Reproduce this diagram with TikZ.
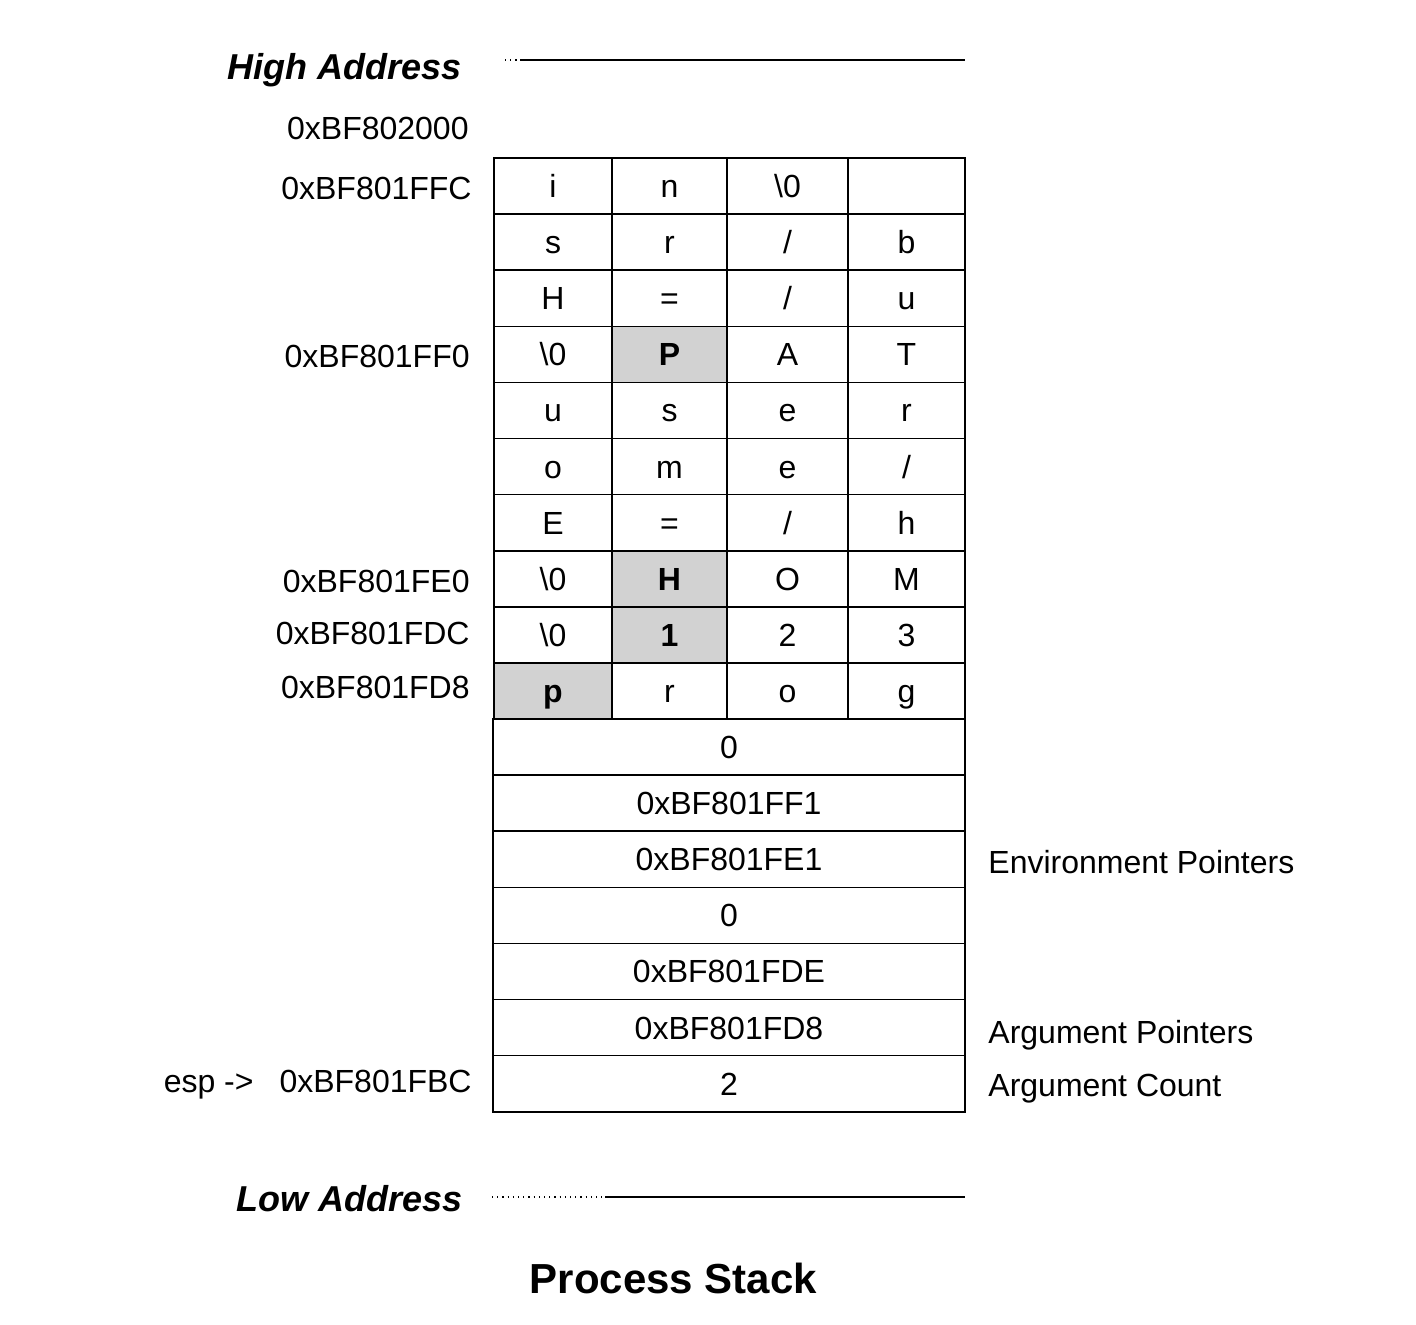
\documentclass[tikz,border=0pt]{standalone}
\usepackage{fontspec}
\setmainfont{Liberation Sans}
\newcommand\zchr{\textbackslash 0}
\begin{document}
\begin{tikzpicture}[x=0.5pt,y=-0.5pt,
  txt/.style={font=\fontsize{16}{19}\selectfont},
  cell/.style={draw, line width=0.8pt, minimum height=28.05pt, inner sep=0pt, text height=11.5pt, text depth=0pt, txt},
  ca/.style={cell, minimum width=59pt},
  cb/.style={cell, minimum width=57.5pt},
  cc/.style={cell, minimum width=60.5pt},
  cd/.style={cell, minimum width=58.5pt},
  wide/.style={cell, minimum width=236pt},
  shade/.style={fill=gray!35, font=\fontsize{16}{19}\selectfont\bfseries},
  addr/.style={anchor=base east, inner sep=0pt, txt},
  side/.style={anchor=base west, inner sep=0pt, txt},
  heading/.style={anchor=base east, inner sep=0pt, font=\fontsize{18}{22}\selectfont\bfseries\itshape},
  rule/.style={line width=0.8pt},
  dotrule/.style={line width=0.6pt, dotted},
]
\useasboundingbox (0,0) rectangle (1416,1324);
% row 0
\node[ca] (c0a) at (553,186.05) {i};
\node[cb] (c0b) at (669.5,186.05) {n};
\node[cc] (c0c) at (787.5,186.05) {\zchr};
\node[cd] (c0d) at (906.5,186.05) {};
% row 1
\node[ca] (c1a) at (553,242.15) {s};
\node[cb] (c1b) at (669.5,242.15) {r};
\node[cc] (c1c) at (787.5,242.15) {/};
\node[cd] (c1d) at (906.5,242.15) {b};
% row 2
\node[ca] (c2a) at (553,298.25) {H};
\node[cb] (c2b) at (669.5,298.25) {=};
\node[cc] (c2c) at (787.5,298.25) {/};
\node[cd] (c2d) at (906.5,298.25) {u};
% row 3
\node[ca] (c3a) at (553,354.35) {\zchr};
\node[cb,shade] (c3b) at (669.5,354.35) {P};
\node[cc] (c3c) at (787.5,354.35) {A};
\node[cd] (c3d) at (906.5,354.35) {T};
% row 4
\node[ca] (c4a) at (553,410.45) {u};
\node[cb] (c4b) at (669.5,410.45) {s};
\node[cc] (c4c) at (787.5,410.45) {e};
\node[cd] (c4d) at (906.5,410.45) {r};
% row 5
\node[ca] (c5a) at (553,466.55) {o};
\node[cb] (c5b) at (669.5,466.55) {m};
\node[cc] (c5c) at (787.5,466.55) {e};
\node[cd] (c5d) at (906.5,466.55) {/};
% row 6
\node[ca] (c6a) at (553,522.65) {E};
\node[cb] (c6b) at (669.5,522.65) {=};
\node[cc] (c6c) at (787.5,522.65) {/};
\node[cd] (c6d) at (906.5,522.65) {h};
% row 7
\node[ca] (c7a) at (553,578.75) {\zchr};
\node[cb,shade] (c7b) at (669.5,578.75) {H};
\node[cc] (c7c) at (787.5,578.75) {O};
\node[cd] (c7d) at (906.5,578.75) {M};
% row 8
\node[ca] (c8a) at (553,634.85) {\zchr};
\node[cb,shade] (c8b) at (669.5,634.85) {1};
\node[cc] (c8c) at (787.5,634.85) {2};
\node[cd] (c8d) at (906.5,634.85) {3};
% row 9
\node[ca,shade] (c9a) at (553,690.95) {p};
\node[cb] (c9b) at (669.5,690.95) {r};
\node[cc] (c9c) at (787.5,690.95) {o};
\node[cd] (c9d) at (906.5,690.95) {g};
% wide rows
\node[wide] (w10) at (729,747.05) {0};
\node[wide] (w11) at (729,803.15) {0xBF801FF1};
\node[wide] (w12) at (729,859.25) {0xBF801FE1};
\node[wide] (w13) at (729,915.35) {0};
\node[wide] (w14) at (729,971.45) {0xBF801FDE};
\node[wide] (w15) at (729,1027.55) {0xBF801FD8};
\node[wide] (w16) at (729,1083.65) {2};
% addresses
\node[addr] (a0) at (469,139) {0xBF802000};
\node[addr] (a1) at (472,199) {0xBF801FFC};
\node[addr] (a2) at (470,367) {0xBF801FF0};
\node[addr] (a3) at (470,592) {0xBF801FE0};
\node[addr] (a4) at (470,644) {0xBF801FDC};
\node[addr] (a5) at (470,698) {0xBF801FD8};
\node[addr] (a6) at (472,1092) {0xBF801FBC};
\node[addr] (esp) at (254,1092) {esp ->};
% side labels
\node[side] (env) at (988,873) {Environment Pointers};
\node[side] (argp) at (988,1043) {Argument Pointers};
\node[side] (argc) at (988,1096) {Argument Count};
% high / low
\node[heading] (hi) at (462,79) {High Address};
\node[heading] (lo) at (463,1211) {Low Address};
\coordinate (hiA) at (505,60);
\coordinate (hiB) at (520,60);
\coordinate (hiC) at (965,60);
\draw[dotrule] (hiA) -- (hiB);
\draw[rule] (hiB) -- (hiC);
\coordinate (loA) at (492,1197);
\coordinate (loB) at (605,1197);
\coordinate (loC) at (965,1197);
\draw[dotrule] (loA) -- (loB);
\draw[rule] (loB) -- (loC);
% title
\node[anchor=base, inner sep=0pt, font=\fontsize{21}{25}\selectfont\bfseries] (title) at (673.5,1293) {Process Stack};
\end{tikzpicture}
\end{document}
